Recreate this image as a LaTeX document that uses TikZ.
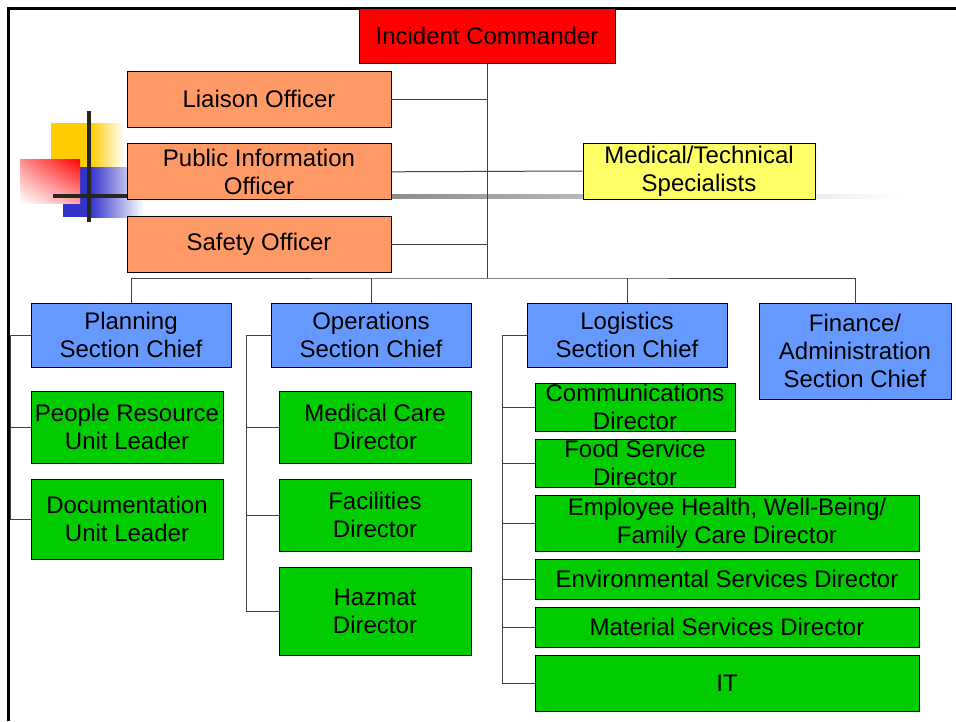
\documentclass[tikz,border=0pt]{standalone}
\usepackage{fontspec}
\setmainfont{Liberation Sans}
\usetikzlibrary{positioning,calc,shadings}
\definecolor{cmdred}{RGB}{255,0,0}
\definecolor{stafforange}{RGB}{255,153,102}
\definecolor{specyellow}{RGB}{255,255,102}
\definecolor{chiefblue}{RGB}{102,153,255}
\definecolor{dirgreen}{RGB}{0,204,0}
\definecolor{decoyellow}{RGB}{255,204,0}
\definecolor{decoblue}{RGB}{51,51,204}
\definecolor{decored}{RGB}{255,0,0}

\begin{document}
\begin{tikzpicture}[x=1pt, y=-1pt,
  box/.style={draw=black, line width=0.8pt, inner sep=0pt, align=center, font=\fontsize{24}{28}\selectfont},
  cmdbox/.style={box, fill=cmdred},
  staffbox/.style={box, fill=stafforange, minimum width=264pt, minimum height=56pt},
  specbox/.style={box, fill=specyellow},
  chiefbox/.style={box, fill=chiefblue},
  dirbox/.style={box, fill=dirgreen},
  wire/.style={draw=black!75, line width=1pt}]
\useasboundingbox (0,0) rectangle (956,721);

% Slide frame
\draw[line width=3pt] (8,721) -- (8,8) -- (956,8);

% Corner ornament
\fill[decoyellow] (51,123) rectangle (90,167);
\shade[left color=decoyellow, right color=white] (90,123) rectangle (124,167);
\fill[decoblue] (63,167) rectangle (90,217);
\shade[left color=decoblue, right color=white] (90,167) rectangle (143,217);
\shade[upper left=decored!45, upper right=decored, lower left=white, lower right=decored!35] (20,159) rectangle (80,203);
\fill[black!85] (87,111) rectangle (91,222);
\fill[black!85] (53,194) rectangle (127,198);
\shade[left color=black!45, right color=white] (391,194) rectangle (900,198);

% Command staff
\node[cmdbox, minimum width=256pt, minimum height=55pt] (ic) at (487,35.5) {Incident Commander};
\node[staffbox] (liaison) at (259,99) {Liaison Officer};
\node[staffbox, below=16pt of liaison] (pio) {Public Information\\Officer};
\node[staffbox, below=16pt of pio] (safety) {Safety Officer};
\node[specbox, minimum width=232pt, minimum height=56pt] (medtech) at (699,171) {Medical/Technical\\Specialists};

% Section chiefs
\node[chiefbox, minimum width=200pt, minimum height=64pt] (plan) at (131,335) {Planning\\Section Chief};
\node[chiefbox, minimum width=200pt, minimum height=64pt] (ops) at (371,335) {Operations\\Section Chief};
\node[chiefbox, minimum width=200pt, minimum height=64pt] (logi) at (627,335) {Logistics\\Section Chief};
\node[chiefbox, minimum width=192pt, minimum height=96pt] (fin) at (855,351) {Finance/\\Administration\\Section Chief};

% Planning units
\node[dirbox, minimum width=192pt, minimum height=72pt] (people) at (127,427) {People Resource\\Unit Leader};
\node[dirbox, minimum width=192pt, minimum height=80pt] (docu) at (127,519) {Documentation\\Unit Leader};

% Operations directors
\node[dirbox, minimum width=192pt, minimum height=72pt] (medcare) at (375,427) {Medical Care\\Director};
\node[dirbox, minimum width=192pt, minimum height=72pt] (facil) at (375,515) {Facilities\\Director};
\node[dirbox, minimum width=192pt, minimum height=88pt] (hazmat) at (375,611) {Hazmat\\Director};

% Logistics directors
\node[dirbox, minimum width=200pt, minimum height=48pt] (comms) at (635,407) {Communications\\Director};
\node[dirbox, minimum width=200pt, minimum height=48pt] (food) at (635,463) {Food Service\\Director};
\node[dirbox, minimum width=384pt, minimum height=56pt] (health) at (727,523) {Employee Health, Well-Being/\\Family Care Director};
\node[dirbox, minimum width=384pt, minimum height=40pt] (env) at (727,579) {Environmental Services Director};
\node[dirbox, minimum width=384pt, minimum height=40pt] (matl) at (727,627) {Material Services Director};
\node[dirbox, minimum width=384pt, minimum height=56pt] (it) at (727,683) {IT};

% Trunk and staff links
\coordinate (hub) at (487,278);
\draw[wire] (ic.south) -- (hub);
\draw[wire] (liaison.east) -- (liaison.east -| hub);
\draw[wire] (safety.east) -- (safety.east -| hub);
\draw[wire] (pio.east) -- (medtech.west);

% Section bus
\draw[wire] (plan.north) |- (hub) -| (fin.north);
\draw[wire] (ops.north) -- (ops.north |- hub);
\draw[wire] (logi.north) -- (logi.north |- hub);

% Side buses
\draw[wire] (plan.west) -- ++(-20,0) |- (docu.west);
\draw[wire] (people.west) -- ++(-20,0);
\draw[wire] (ops.west) -- ++(-24,0) |- (hazmat.west);
\foreach \d in {medcare,facil} \draw[wire] (\d.west) -- ++(-32,0);
\draw[wire] (logi.west) -- ++(-24,0) |- (it.west);
\foreach \d in {comms,food,health,env,matl} \draw[wire] (\d.west) -- ++(-32,0);
\end{tikzpicture}
\end{document}
